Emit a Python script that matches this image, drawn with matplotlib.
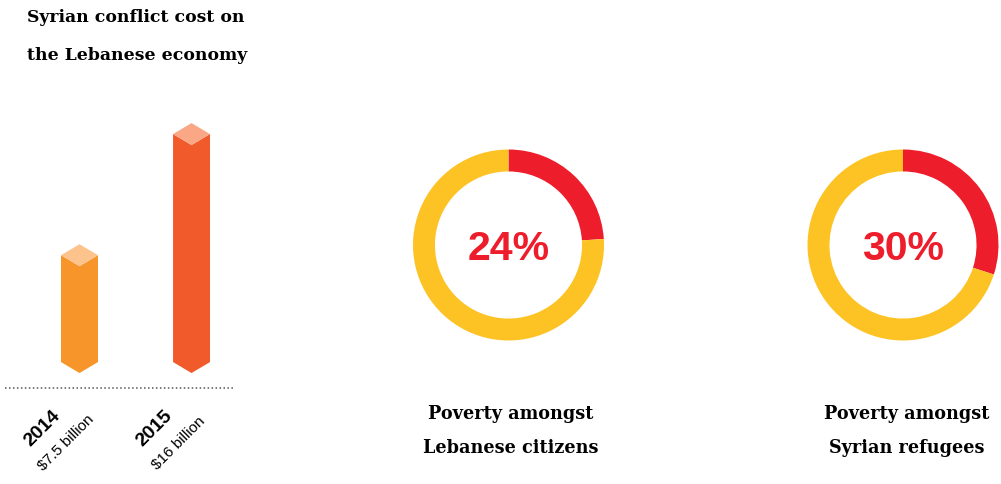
import matplotlib
matplotlib.use("Agg")
import matplotlib.pyplot as plt

# data
years = ["2014", "2015"]
costs = [7.5, 16]  # billion USD
cost_labels = ["$7.5 billion", "$16 billion"]
body_colors = ["#F7952A", "#F15A2B"]
top_colors = ["#FDC38D", "#F9A785"]

poverty_groups = ["Poverty amongst\nLebanese citizens", "Poverty amongst\nSyrian refugees"]
poverty_pct = [24, 30]

RED = "#EE1D2B"
YELLOW = "#FDC325"
SERIF = "DejaVu Serif"
SANS = "Liberation Sans"

W, H = 1001, 484
fig = plt.figure(figsize=(W / 100, H / 100), dpi=100)


def px_axes(x0, y0, x1, y1):
    # axes placed by pixel box (top-left origin)
    return fig.add_axes([x0 / W, (H - y1) / H, (x1 - x0) / W, (y1 - y0) / H])


# title
fig.text(27 / W, 1 - 18 / H, "Syrian conflict cost on", fontsize=12.4,
         fontweight="bold", family=SERIF, va="center", ha="left")
fig.text(27 / W, 1 - 55 / H, "the Lebanese economy", fontsize=12.4,
         fontweight="bold", family=SERIF, va="center", ha="left")

# isometric bars
ax = px_axes(5, 100, 235, 388)
half_w = 0.165
depth = 0.77
for i, (v, bc, tc) in enumerate(zip(costs, body_colors, top_colors)):
    body_x = [i - half_w, i, i + half_w, i + half_w, i, i - half_w]
    body_y = [0, -depth, 0, v, v - depth, v]
    ax.fill(body_x, body_y, color=bc, lw=0)
    top_x = [i - half_w, i, i + half_w, i]
    top_y = [v, v + depth, v, v - depth]
    ax.fill(top_x, top_y, color=tc, lw=0)
ax.set_xlim(-0.665, 1.388)
ax.set_ylim(-1.82, 18.39)
ax.axhline(-1.82, color="#555555", lw=1.1, dashes=(1, 1.6), clip_on=False)
ax.axis("off")

for i, (yr, lab) in enumerate(zip(years, cost_labels)):
    ax.annotate(yr, xy=(i, -1.82), xytext=(-37 * 0.72, -41 * 0.72),
                textcoords="offset points", rotation=45, ha="center", va="center",
                fontsize=14, fontweight="bold", family=SANS, rotation_mode="anchor")
    ax.annotate(lab, xy=(i, -1.82), xytext=(-13 * 0.72, -55 * 0.72),
                textcoords="offset points", rotation=45, ha="center", va="center",
                fontsize=11, family=SANS, rotation_mode="anchor")

# donuts
centers = [508.5, 903]
label_x = [511, 907]
r = 95.5
for cx, lx, pct, grp in zip(centers, label_x, poverty_pct, poverty_groups):
    pax = px_axes(cx - r, 245 - r, cx + r, 245 + r)
    pax.pie([pct, 100 - pct], colors=[RED, YELLOW], startangle=90, counterclock=False,
            radius=1, wedgeprops=dict(width=0.23, linewidth=0))
    pax.set_xlim(-1, 1)
    pax.set_ylim(-1, 1)
    pax.set_aspect("auto")
    pax.text(0, -0.04, f"{pct}%", color=RED, fontsize=29.5, fontweight="bold",
             family=SANS, ha="center", va="center")
    fig.text(lx / W, 1 - 431 / H, grp, fontsize=12.7, fontweight="bold", family=SERIF,
             ha="center", va="center", linespacing=2.1)

fig.savefig("out.png", dpi=100)
